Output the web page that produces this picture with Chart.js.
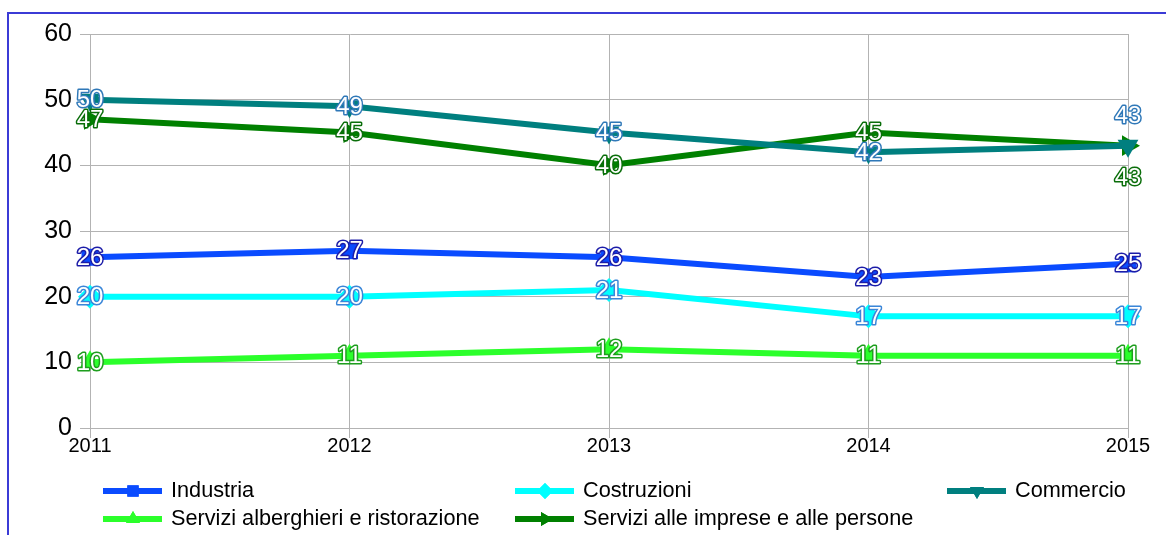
<!DOCTYPE html>
<html>
<head>
<meta charset="utf-8">
<script src="https://cdn.jsdelivr.net/npm/chart.js@4/dist/chart.umd.min.js"></script>
<style>
  html, body { margin: 0; padding: 0; background: #fff; overflow: hidden; }
  #wrap { position: relative; width: 1166px; height: 535px; }
  #frame { position: absolute; left: 7px; top: 12px; width: 2000px; height: 2000px; border: 2px solid #3b3bd6; }
  canvas { position: absolute; left: 0; top: 0; }
</style>
</head>
<body>
<div id="wrap">
  <div id="frame"></div>
  <canvas id="chart" width="1166" height="535"></canvas>
</div>
<script>
const years = ['2011', '2012', '2013', '2014', '2015'];
const seriesNames = ['Industria', 'Costruzioni', 'Commercio', 'Servizi alberghieri e ristorazione', 'Servizi alle imprese e alle persone'];
const industria = [26, 27, 26, 23, 25];
const costruzioni = [20, 20, 21, 17, 17];
const commercio = [50, 49, 45, 42, 43];
const alberghieri = [10, 11, 12, 11, 11];
const imprese = [47, 45, 40, 45, 43];
const yTicks = [0, 10, 20, 30, 40, 50, 60];

const lineColors = ['#0a4bff', '#00ffff', '#007f7f', '#2bff2b', '#008000'];
const labelStroke = ['#1c1ca8', '#3a86d8', '#2f78b8', '#1e9e1e', '#0a6e0a'];
const markers = ['rect', 'rectRot', 'triangle', 'triangle', 'triangle'];
const markerRot = [0, 0, 180, 0, 90];
const allData = [industria, costruzioni, commercio, alberghieri, imprese];
const FONT = '"Liberation Sans", Arial, sans-serif';

// label offsets for the crowded last point (2015)
function labelOffset(ds, i) {
  if (i === 4 && ds === 2) return -30;
  if (i === 4 && ds === 4) return 32;
  return 0;
}

const valueLabels = {
  id: 'valueLabels',
  afterDatasetsDraw(chart) {
    const ctx = chart.ctx;
    ctx.save();
    ctx.font = '24px ' + FONT;
    ctx.textAlign = 'center';
    ctx.textBaseline = 'middle';
    ctx.lineJoin = 'round';
    chart.data.datasets.forEach((ds, d) => {
      chart.getDatasetMeta(d).data.forEach((pt, i) => {
        const y = pt.y + labelOffset(d, i) + 1;
        ctx.lineWidth = 3;
        ctx.strokeStyle = labelStroke[d];
        ctx.strokeText(String(ds.data[i]), pt.x, y);
        ctx.fillStyle = '#ffffff';
        ctx.fillText(String(ds.data[i]), pt.x, y);
      });
    });
    ctx.restore();
  }
};

const gridLegend = {
  id: 'gridLegend',
  afterDraw(chart) {
    const ctx = chart.ctx;
    const cols = [103, 515, 947];
    const rows = [491, 519];
    ctx.save();
    chart.data.datasets.forEach((ds, d) => {
      const x = cols[d % 3];
      const y = rows[Math.floor(d / 3)];
      ctx.strokeStyle = lineColors[d];
      ctx.lineWidth = 6;
      ctx.beginPath();
      ctx.moveTo(x, y);
      ctx.lineTo(x + 59, y);
      ctx.stroke();
      ctx.fillStyle = lineColors[d];
      Chart.helpers.drawPoint(ctx, { pointStyle: markers[d], rotation: markerRot[d], radius: 8, borderWidth: 0 }, x + 30, y);
      ctx.fill();
      ctx.fillStyle = '#000';
      ctx.font = '21.7px ' + FONT;
      ctx.textAlign = 'left';
      ctx.textBaseline = 'middle';
      ctx.fillText(ds.label, x + 68, y);
    });
    ctx.restore();
  }
};

new Chart(document.getElementById('chart'), {
  type: 'line',
  data: {
    labels: years,
    datasets: allData.map((vals, d) => ({
      label: seriesNames[d],
      data: vals,
      borderColor: lineColors[d],
      backgroundColor: lineColors[d],
      borderWidth: 6,
      pointStyle: markers[d],
      rotation: markerRot[d],
      pointRadius: 12,
      pointBorderWidth: 0,
      fill: false,
      tension: 0
    }))
  },
  options: {
    responsive: false,
    animation: false,
    layout: { padding: { left: 0, right: 38, top: 34, bottom: 0 } },
    plugins: { legend: { display: false }, tooltip: { enabled: false } },
    scales: {
      x: {
        offset: false,
        grid: { color: '#b3b3b3', lineWidth: 1, tickLength: 10 },
        border: { color: '#b3b3b3' },
        ticks: { color: '#000', font: { family: FONT, size: 20 }, padding: -4, maxRotation: 0 },
        afterFit(scale) { scale.height = 107; }
      },
      y: {
        min: 0,
        max: 60,
        afterBuildTicks(scale) { scale.ticks = yTicks.map(v => ({ value: v })); },
        grid: { color: '#b3b3b3', lineWidth: 1, tickLength: 10 },
        border: { color: '#b3b3b3' },
        ticks: { color: '#000', font: { family: FONT, size: 25 }, padding: 8 },
        afterFit(scale) { scale.width = 90; }
      }
    }
  },
  plugins: [valueLabels, gridLegend]
});
</script>
</body>
</html>
